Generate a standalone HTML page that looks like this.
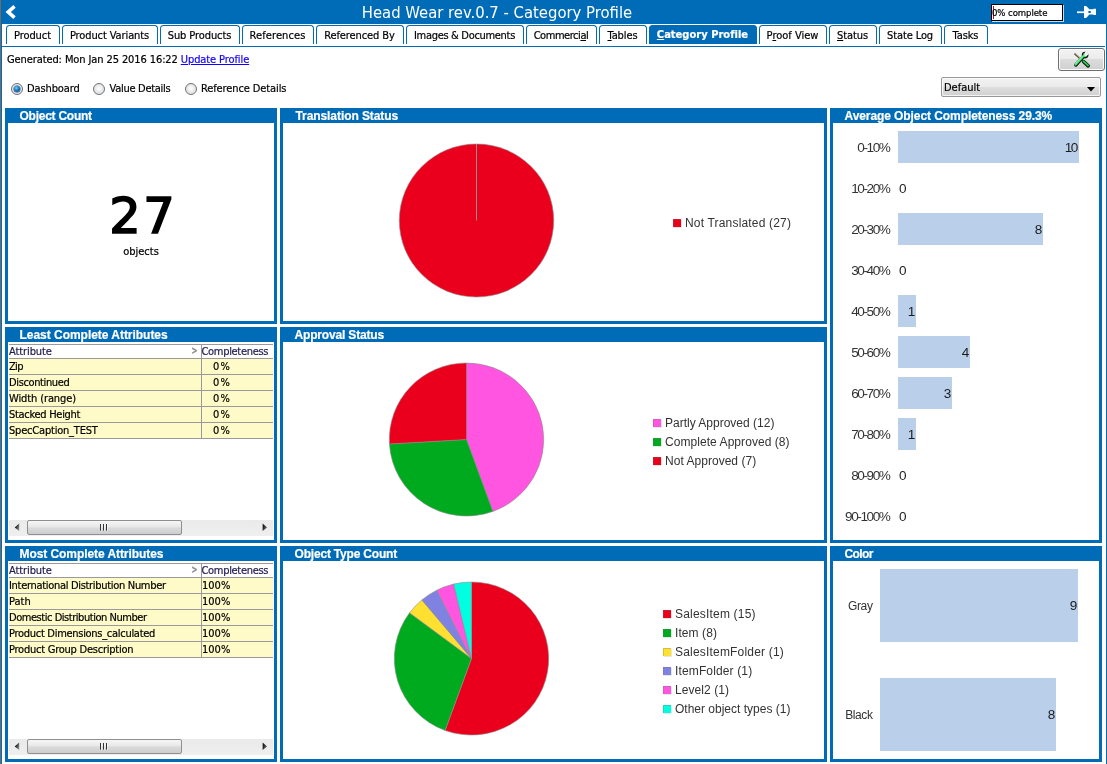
<!DOCTYPE html>
<html><head><meta charset="utf-8"><title>Head Wear rev.0.7 - Category Profile</title>
<style>
html,body{margin:0;padding:0;}
body{width:1107px;height:764px;position:relative;overflow:hidden;background:#fff;font-family:"DejaVu Sans Condensed","DejaVu Sans","Liberation Sans",sans-serif;font-size:11px;color:#000;-webkit-text-stroke:0.2px;}
.abs{position:absolute;}
#edgeL{left:0;top:0;width:1px;height:764px;background:#736a64;}
#edgeL2{left:1px;top:0;width:1px;height:764px;background:#006cb7;}
#edgeR{left:1106px;top:0;width:1px;height:764px;background:#006cb7;}
#hdr{left:1px;top:0;width:1105px;height:24px;background:#006cb7;}
#title{-webkit-text-stroke:0;left:0;top:1px;width:994px;height:24px;line-height:24px;text-align:center;color:#fff;font-size:16.5px;}
#pct{left:991px;top:4px;width:70px;height:15px;border:1px solid #000;background:#fff;box-shadow:1px 1px 0 #c4daee;letter-spacing:-0.08px;font-size:9.5px;line-height:15px;white-space:nowrap;}
#tabline{left:1px;top:46px;width:1104px;height:1px;background:#006cb7;}
.tab{position:absolute;top:25px;height:18px;border:1px solid #006cb7;border-bottom:none;border-radius:3.5px 3.5px 0 0;box-sizing:content-box;text-align:center;line-height:20px;white-space:nowrap;letter-spacing:-0.1px;text-indent:-1px;}
.tab.sel{background:#006cb7;color:#fff;font-weight:bold;line-height:18px;}
.panel{position:absolute;background:#006cb7;}
.panel .in{position:absolute;left:3px;top:15px;right:3px;bottom:3px;background:#fff;}
.ptitle{position:absolute;left:14.5px;top:1px;height:15px;line-height:15px;letter-spacing:-0.25px;color:#fff;font-family:"Liberation Sans",sans-serif;font-weight:bold;font-size:12px;white-space:nowrap;}
.lg{-webkit-text-stroke:0;position:absolute;font-family:"Liberation Sans",sans-serif;font-size:12px;color:#333;white-space:nowrap;line-height:14px;}
.sq{position:absolute;width:8px;height:8px;box-shadow:inset 1px 1px 0 rgba(110,110,110,0.28),0.6px 0.6px 0 rgba(150,170,150,0.45);}
.bl{-webkit-text-stroke:0;position:absolute;font-family:"Liberation Sans",sans-serif;font-size:12px;color:#1c1c1c;white-space:nowrap;line-height:14px;text-align:right;letter-spacing:-1.25px;transform:scaleX(1.13);transform-origin:100% 50%;}
.bl.l{transform-origin:0 50%;text-align:left;}
.bar{position:absolute;background:#bacfe9;}
table.g{position:absolute;left:1px;top:2px;border-collapse:collapse;table-layout:fixed;width:264px;}
table.g td{height:15px;padding:0;line-height:15px;border-bottom:1px solid #9a9a9a;background:#fffbc8;white-space:nowrap;overflow:hidden;}
table.g th{height:13px;padding:0;line-height:13px;border-top:1px solid #9a9a9a;border-bottom:1px solid #9a9a9a;font-weight:normal;text-align:left;color:#1e1a50;background:#fff;white-space:nowrap;position:relative;}
table.g td+td, table.g th+th{border-left:1px solid #9a9a9a;}
.sb{position:absolute;left:1px;top:178px;width:264px;height:16px;background:linear-gradient(#eaeaea,#efefef);}
.sb .th{position:absolute;left:18px;top:0px;width:153px;height:13px;border:1px solid #8f8f8f;border-radius:2px;background:linear-gradient(#f6f6f6 0%,#e9e9e9 42%,#dadada 55%,#cdcdd0 100%);}
</style></head><body>
<div class="abs" id="edgeL"></div><div class="abs" id="edgeL2"></div><div class="abs" id="edgeR"></div>
<div class="abs" id="hdr"></div>
<div class="abs" id="title">Head Wear rev.0.7 - Category Profile</div>
<svg class="abs" style="left:5px;top:4px" width="13" height="16" viewBox="0 0 13 16"><path d="M9.5 2.3L3.2 8L9.5 13.7" fill="none" stroke="#fff" stroke-width="3.6" stroke-linejoin="miter"/></svg>
<div class="abs" id="pct"><span style="display:inline-block;width:1px;height:13px;background:#e00020;vertical-align:-3px;margin-left:1px;margin-right:-2px"></span>0% complete</div>
<svg class="abs" style="left:1076px;top:4px" width="22" height="16" viewBox="1076 4 22 16"><g fill="#fff"><rect x="1077" y="11.4" width="7" height="1.7"/><path d="M1084 6H1086.2L1089.4 9.3H1093.4V8.7H1096V15H1093.4V14.5H1089.4L1086.2 18H1084Z"/></g><rect x="1088.4" y="11" width="2.4" height="2" fill="#006cb7"/><rect x="1092" y="10.6" width="1.6" height="2.8" fill="#006cb7" opacity="0"/></svg>

<div class="tab" style="left:6px;width:52px;letter-spacing:-0.1px">Product</div>
<div class="tab" style="left:62px;width:94px;letter-spacing:-0.1px">Product Variants</div>
<div class="tab" style="left:160px;width:78px;letter-spacing:-0.1px">Sub Products</div>
<div class="tab" style="left:242px;width:70px;letter-spacing:0.1px">References</div>
<div class="tab" style="left:316px;width:86px;letter-spacing:-0.1px">Referenced By</div>
<div class="tab" style="left:406px;width:116px;letter-spacing:-0.31px">Images &amp; Documents</div>
<div class="tab" style="left:526px;width:69px;letter-spacing:-0.45px">Commerci<u>a</u>l</div>
<div class="tab" style="left:599px;width:46px;letter-spacing:-0.1px"><u>T</u>ables</div>
<div class="tab sel" style="left:649px;width:106px;letter-spacing:0.03px"><u>C</u>ategory Profile</div>
<div class="tab" style="left:759px;width:66px;letter-spacing:0.0px">P<u>r</u>oof View</div>
<div class="tab" style="left:829px;width:46px;letter-spacing:-0.1px"><u>S</u>tatus</div>
<div class="tab" style="left:879px;width:61px;letter-spacing:-0.1px">State Log</div>
<div class="tab" style="left:944px;width:42px;letter-spacing:-0.1px">Tasks</div>
<div class="abs" id="tabline"></div>
<div class="abs" style="left:7px;top:53px;line-height:14px;white-space:nowrap;letter-spacing:-0.1px">Generated: Mon Jan 25 2016 16:22 <span style="color:#1400ff;text-decoration:underline">Update Profile</span></div>
<div class="abs" style="left:1058px;top:48px;width:45px;height:21px;border:1px solid #6e6e6e;border-radius:3px;background:linear-gradient(#f3f3f3 0%,#ececec 45%,#dcdcdc 50%,#d0d0d0 100%);box-shadow:inset 0 0 0 1px #fbfbfb;"></div>
<svg class="abs" style="left:1070px;top:50px" width="22" height="19" viewBox="1070 50 22 19">
<path d="M1074.6 53.6L1083 61.2" stroke="#1a1a10" stroke-width="1.5" fill="none"/>
<path d="M1074.4 52.9L1083 60.6" stroke="#b0b078" stroke-width="1.2" fill="none"/>
<path d="M1083.6 61.6L1088.2 65.8" stroke="#0c200c" stroke-width="3.6" stroke-linecap="round" fill="none"/>
<path d="M1083.6 61.4L1088 65.4" stroke="#30c858" stroke-width="1.9" stroke-linecap="round" fill="none"/>
<path d="M1075.8 65L1083.6 56.4" stroke="#10200f" stroke-width="3.4" stroke-linecap="round" fill="none"/>
<circle cx="1085.1" cy="55.1" r="2.7" fill="#48e878" stroke="#151515" stroke-width="1.3"/>
<path d="M1084.3 55.9L1084.5 53L1086 51L1089 53.2L1087.9 54.9L1086.3 55.9Z" fill="#f0f0f0"/>
<path d="M1075.5 64.6L1083.4 56" stroke="#4cf080" stroke-width="2" stroke-linecap="round" fill="none"/>
<path d="M1075 63.8L1082.4 55.8" stroke="#e8ffe8" stroke-width="0.6" fill="none"/>
</svg>
<div class="abs" style="left:11px;top:83px;width:10px;height:10px;border:1px solid #6f7378;border-radius:50%;background:radial-gradient(circle at 50% 45%,#ffffff 0%,#f0f0f0 35%,#c4c8cc 100%);box-shadow:inset 0 0 0 1px #e8e8e8"></div>
<div class="abs" style="left:14px;top:86px;width:6px;height:6px;border-radius:50%;background:radial-gradient(circle at 40% 35%,#6fd8f8 0%,#1878c0 45%,#0a3a78 100%);box-shadow:0 0 0 0.5px #1a4a80"></div>
<div class="abs" style="left:27px;top:82px;line-height:14px;white-space:nowrap;letter-spacing:-0.11px">Dashboard</div>
<div class="abs" style="left:93px;top:83px;width:10px;height:10px;border:1px solid #6f7378;border-radius:50%;background:radial-gradient(circle at 50% 45%,#ffffff 0%,#f0f0f0 35%,#c4c8cc 100%);box-shadow:inset 0 0 0 1px #e8e8e8"></div>
<div class="abs" style="left:109.5px;top:82px;line-height:14px;white-space:nowrap;letter-spacing:-0.11px"><span style="letter-spacing:-0.28px">Value Details</span></div>
<div class="abs" style="left:185px;top:83px;width:10px;height:10px;border:1px solid #6f7378;border-radius:50%;background:radial-gradient(circle at 50% 45%,#ffffff 0%,#f0f0f0 35%,#c4c8cc 100%);box-shadow:inset 0 0 0 1px #e8e8e8"></div>
<div class="abs" style="left:201px;top:82px;line-height:14px;white-space:nowrap;letter-spacing:-0.11px">Reference Details</div>
<div class="abs" style="left:941px;top:77px;width:158px;height:18px;border:1px solid #979797;border-radius:2px;box-shadow:inset 0 0 0 1px rgba(255,255,255,0.75);background:linear-gradient(#f2f2f2 0%,#ebebeb 48%,#dddddd 52%,#d0d0d0 100%);line-height:19px;"><span style="padding-left:2px">Default</span></div>
<svg class="abs" style="left:1087px;top:87px" width="9" height="5"><path d="M0 0H8L4 4.5Z" fill="#000"/></svg>
<div class="panel" style="left:5px;top:108px;width:272px;height:216px"><div class="ptitle" style="left:14.5px;letter-spacing:-0.25px">Object Count</div><div class="in"><div class="abs" style="left:2.3px;width:266px;top:65.5px;text-align:center;font-size:49.5px;line-height:54px;letter-spacing:2.5px;font-weight:normal;-webkit-text-stroke:1.7px #000;font-family:'DejaVu Sans',sans-serif">27</div><div class="abs" style="left:0;width:266px;top:122px;text-align:center;line-height:14px">objects</div></div></div>
<div class="panel" style="left:5px;top:327px;width:272px;height:216px"><div class="ptitle" style="left:14.5px;letter-spacing:-0.03px">Least Complete Attributes</div><div class="in"><table class="g"><colgroup><col style="width:192px"><col style="width:72px"></colgroup><tr><th><span style="letter-spacing:-0.1px">Attribute</span><span style="position:absolute;right:3px;top:-1px;color:#858585;font-weight:bold;font-size:10px;transform:scaleX(0.8);transform-origin:100% 50%">&gt;</span></th><th style="padding-left:0;letter-spacing:-0.31px">Completeness</th></tr><tr><td style="letter-spacing:-0.7px">Zip</td><td style="padding-left:11.5px;letter-spacing:1.2px">0%</td></tr><tr><td style="letter-spacing:-0.37px">Discontinued</td><td style="padding-left:11.5px;letter-spacing:1.2px">0%</td></tr><tr><td style="letter-spacing:-0.11px">Width (range)</td><td style="padding-left:11.5px;letter-spacing:1.2px">0%</td></tr><tr><td style="letter-spacing:-0.29px">Stacked Height</td><td style="padding-left:11.5px;letter-spacing:1.2px">0%</td></tr><tr><td style="letter-spacing:-0.2px">SpecCaption_TEST</td><td style="padding-left:11.5px;letter-spacing:1.2px">0%</td></tr></table><div class="sb"><svg style="position:absolute;left:5px;top:3px" width="6" height="9"><defs><linearGradient id="ga" x1="0" y1="0" x2="1" y2="0.6"><stop offset="0.35" stop-color="#1a1a1a"/><stop offset="1" stop-color="#8a8a8a"/></linearGradient></defs><path d="M5.2 0.6V8.1L0.7 4.4Z" fill="url(#ga)"/></svg><div class="th"><svg style="position:absolute;left:72px;top:3px" width="9" height="8"><path d="M1.5 0.5V7M4.5 0.5V7M7.5 0.5V7" stroke="#fff" stroke-opacity="0.55" stroke-width="1"/><path d="M0.5 0V6.6M3.5 0V6.6M6.5 0V6.6" stroke="#333" stroke-width="1"/></svg></div><svg style="position:absolute;left:253px;top:3px" width="6" height="9"><defs><linearGradient id="gb" x1="0" y1="0" x2="1" y2="0.6"><stop offset="0.3" stop-color="#1a1a1a"/><stop offset="1" stop-color="#777"/></linearGradient></defs><path d="M0.6 0.6V8.1L5.1 4.4Z" fill="url(#gb)"/></svg></div></div></div>
<div class="panel" style="left:5px;top:546px;width:272px;height:216px"><div class="ptitle" style="left:14.5px;letter-spacing:-0.07px">Most Complete Attributes</div><div class="in"><table class="g"><colgroup><col style="width:192px"><col style="width:72px"></colgroup><tr><th><span style="letter-spacing:-0.1px">Attribute</span><span style="position:absolute;right:3px;top:-1px;color:#858585;font-weight:bold;font-size:10px;transform:scaleX(0.8);transform-origin:100% 50%">&gt;</span></th><th style="padding-left:0;letter-spacing:-0.31px">Completeness</th></tr><tr><td style="letter-spacing:-0.31px">International Distribution Number</td><td style="padding-left:0.5px;letter-spacing:0px">100%</td></tr><tr><td style="letter-spacing:0px">Path</td><td style="padding-left:0.5px;letter-spacing:0px">100%</td></tr><tr><td style="letter-spacing:-0.46px">Domestic Distribution Number</td><td style="padding-left:0.5px;letter-spacing:0px">100%</td></tr><tr><td style="letter-spacing:-0.29px">Product Dimensions_calculated</td><td style="padding-left:0.5px;letter-spacing:0px">100%</td></tr><tr><td style="letter-spacing:-0.24px">Product Group Description</td><td style="padding-left:0.5px;letter-spacing:0px">100%</td></tr></table><div class="sb"><svg style="position:absolute;left:5px;top:3px" width="6" height="9"><defs><linearGradient id="ga" x1="0" y1="0" x2="1" y2="0.6"><stop offset="0.35" stop-color="#1a1a1a"/><stop offset="1" stop-color="#8a8a8a"/></linearGradient></defs><path d="M5.2 0.6V8.1L0.7 4.4Z" fill="url(#ga)"/></svg><div class="th"><svg style="position:absolute;left:72px;top:3px" width="9" height="8"><path d="M1.5 0.5V7M4.5 0.5V7M7.5 0.5V7" stroke="#fff" stroke-opacity="0.55" stroke-width="1"/><path d="M0.5 0V6.6M3.5 0V6.6M6.5 0V6.6" stroke="#333" stroke-width="1"/></svg></div><svg style="position:absolute;left:253px;top:3px" width="6" height="9"><defs><linearGradient id="gb" x1="0" y1="0" x2="1" y2="0.6"><stop offset="0.3" stop-color="#1a1a1a"/><stop offset="1" stop-color="#777"/></linearGradient></defs><path d="M0.6 0.6V8.1L5.1 4.4Z" fill="url(#gb)"/></svg></div></div></div>
<div class="panel" style="left:280px;top:108px;width:547px;height:216px"><div class="ptitle" style="left:15.5px;letter-spacing:-0.08px">Translation Status</div><div class="in"><svg class="abs" style="left:0;top:0" width="541" height="198" viewBox="283 123 541 198"><ellipse cx="476.5" cy="220.5" rx="77.2" ry="76.5" fill="#ea001d" stroke="#8c8c8c" stroke-width="0.6"/><rect x="476.0" y="144.0" width="1" height="76.5" fill="#909090"/></svg><div class="sq" style="left:390px;top:96px;background:#ea001d"></div><div class="lg" style="left:402px;top:93px;letter-spacing:0.18px">Not Translated (27)</div></div></div>
<div class="panel" style="left:280px;top:327px;width:547px;height:216px"><div class="ptitle" style="left:14.5px;letter-spacing:-0.17px">Approval Status</div><div class="in"><svg class="abs" style="left:0;top:0" width="541" height="198" viewBox="283 342 541 198"><path d="M466.5 439.5L466.50 363.00A77.2 76.5 0 0 1 492.90 511.39Z" fill="#ff55e0" stroke="#8c8c8c" stroke-width="0.6" stroke-linejoin="round"/><path d="M466.5 439.5L492.90 511.39A77.2 76.5 0 0 1 389.43 443.95Z" fill="#00aa1e" stroke="#8c8c8c" stroke-width="0.6" stroke-linejoin="round"/><path d="M466.5 439.5L389.43 443.95A77.2 76.5 0 0 1 466.50 363.00Z" fill="#ea001d" stroke="#8c8c8c" stroke-width="0.6" stroke-linejoin="round"/></svg><div class="sq" style="left:370px;top:77px;background:#ff55e0"></div><div class="lg" style="left:382px;top:74px;letter-spacing:0px">Partly Approved (12)</div><div class="sq" style="left:370px;top:96px;background:#00aa1e"></div><div class="lg" style="left:382px;top:93px;letter-spacing:0.06px">Complete Approved (8)</div><div class="sq" style="left:370px;top:115px;background:#ea001d"></div><div class="lg" style="left:382px;top:112px;letter-spacing:0.03px">Not Approved (7)</div></div></div>
<div class="panel" style="left:280px;top:546px;width:547px;height:216px"><div class="ptitle" style="left:14.5px;letter-spacing:-0.19px">Object Type Count</div><div class="in"><svg class="abs" style="left:0;top:0" width="541" height="198" viewBox="283 561 541 198"><path d="M471.5 658.5L471.50 582.00A77.2 76.5 0 1 1 445.10 730.39Z" fill="#ea001d" stroke="#8c8c8c" stroke-width="0.6" stroke-linejoin="round"/><path d="M471.5 658.5L445.10 730.39A77.2 76.5 0 0 1 409.58 612.82Z" fill="#00aa1e" stroke="#8c8c8c" stroke-width="0.6" stroke-linejoin="round"/><path d="M471.5 658.5L409.58 612.82A77.2 76.5 0 0 1 421.88 599.90Z" fill="#ffe030" stroke="#8c8c8c" stroke-width="0.6" stroke-linejoin="round"/><path d="M471.5 658.5L421.88 599.90A77.2 76.5 0 0 1 436.85 590.14Z" fill="#8082e2" stroke="#8c8c8c" stroke-width="0.6" stroke-linejoin="round"/><path d="M471.5 658.5L436.85 590.14A77.2 76.5 0 0 1 453.70 584.06Z" fill="#ff55e0" stroke="#8c8c8c" stroke-width="0.6" stroke-linejoin="round"/><path d="M471.5 658.5L453.70 584.06A77.2 76.5 0 0 1 471.50 582.00Z" fill="#00ffe1" stroke="#8c8c8c" stroke-width="0.6" stroke-linejoin="round"/></svg><div class="sq" style="left:380px;top:49px;background:#ea001d"></div><div class="lg" style="left:392px;top:46px;letter-spacing:0.19px">SalesItem (15)</div><div class="sq" style="left:380px;top:68px;background:#00aa1e"></div><div class="lg" style="left:392px;top:65px;letter-spacing:0.08px">Item (8)</div><div class="sq" style="left:380px;top:87px;background:#ffe030"></div><div class="lg" style="left:392px;top:84px;letter-spacing:0.19px">SalesItemFolder (1)</div><div class="sq" style="left:380px;top:106px;background:#8082e2"></div><div class="lg" style="left:392px;top:103px;letter-spacing:0.14px">ItemFolder (1)</div><div class="sq" style="left:380px;top:125px;background:#ff55e0"></div><div class="lg" style="left:392px;top:122px;letter-spacing:0.07px">Level2 (1)</div><div class="sq" style="left:380px;top:144px;background:#00ffe1"></div><div class="lg" style="left:392px;top:141px;letter-spacing:0px">Other object types (1)</div></div></div>
<div class="panel" style="left:830px;top:108px;width:272px;height:435px"><div class="ptitle" style="left:14.5px;letter-spacing:-0.08px">Average Object Completeness 29.3%</div><div class="in"><div class="bl" style="left:0;width:56.5px;top:18px;color:#333">0-10%</div><div class="bar" style="left:65px;top:8px;width:181px;height:32px"></div><div class="bl" style="left:65px;width:179px;top:18px">10</div><div class="bl" style="left:0;width:56.5px;top:59px;color:#333">10-20%</div><div class="bl l" style="left:66px;top:59px">0</div><div class="bl" style="left:0;width:56.5px;top:100px;color:#333">20-30%</div><div class="bar" style="left:65px;top:90px;width:145px;height:32px"></div><div class="bl" style="left:65px;width:143px;top:100px">8</div><div class="bl" style="left:0;width:56.5px;top:141px;color:#333">30-40%</div><div class="bl l" style="left:66px;top:141px">0</div><div class="bl" style="left:0;width:56.5px;top:182px;color:#333">40-50%</div><div class="bar" style="left:65px;top:172px;width:18px;height:32px"></div><div class="bl" style="left:65px;width:16px;top:182px">1</div><div class="bl" style="left:0;width:56.5px;top:223px;color:#333">50-60%</div><div class="bar" style="left:65px;top:213px;width:72px;height:32px"></div><div class="bl" style="left:65px;width:70px;top:223px">4</div><div class="bl" style="left:0;width:56.5px;top:264px;color:#333">60-70%</div><div class="bar" style="left:65px;top:254px;width:54px;height:32px"></div><div class="bl" style="left:65px;width:52px;top:264px">3</div><div class="bl" style="left:0;width:56.5px;top:305px;color:#333">70-80%</div><div class="bar" style="left:65px;top:295px;width:18px;height:32px"></div><div class="bl" style="left:65px;width:16px;top:305px">1</div><div class="bl" style="left:0;width:56.5px;top:346px;color:#333">80-90%</div><div class="bl l" style="left:66px;top:346px">0</div><div class="bl" style="left:0;width:56.5px;top:387px;color:#333">90-100%</div><div class="bl l" style="left:66px;top:387px">0</div></div></div>
<div class="panel" style="left:830px;top:546px;width:272px;height:216px"><div class="ptitle" style="left:14.5px;letter-spacing:-0.6px">Color</div><div class="in"><div class="bl" style="left:0;width:39.5px;top:38px;letter-spacing:-0.4px;transform:none;color:#333">Gray</div><div class="bar" style="left:47px;top:8px;width:198px;height:73px"></div><div class="bl" style="left:47px;width:196px;top:38px">9</div><div class="bl" style="left:0;width:39.5px;top:147px;letter-spacing:-0.4px;transform:none;color:#333">Black</div><div class="bar" style="left:47px;top:117px;width:176px;height:73px"></div><div class="bl" style="left:47px;width:174px;top:147px">8</div></div></div>
</body></html>
